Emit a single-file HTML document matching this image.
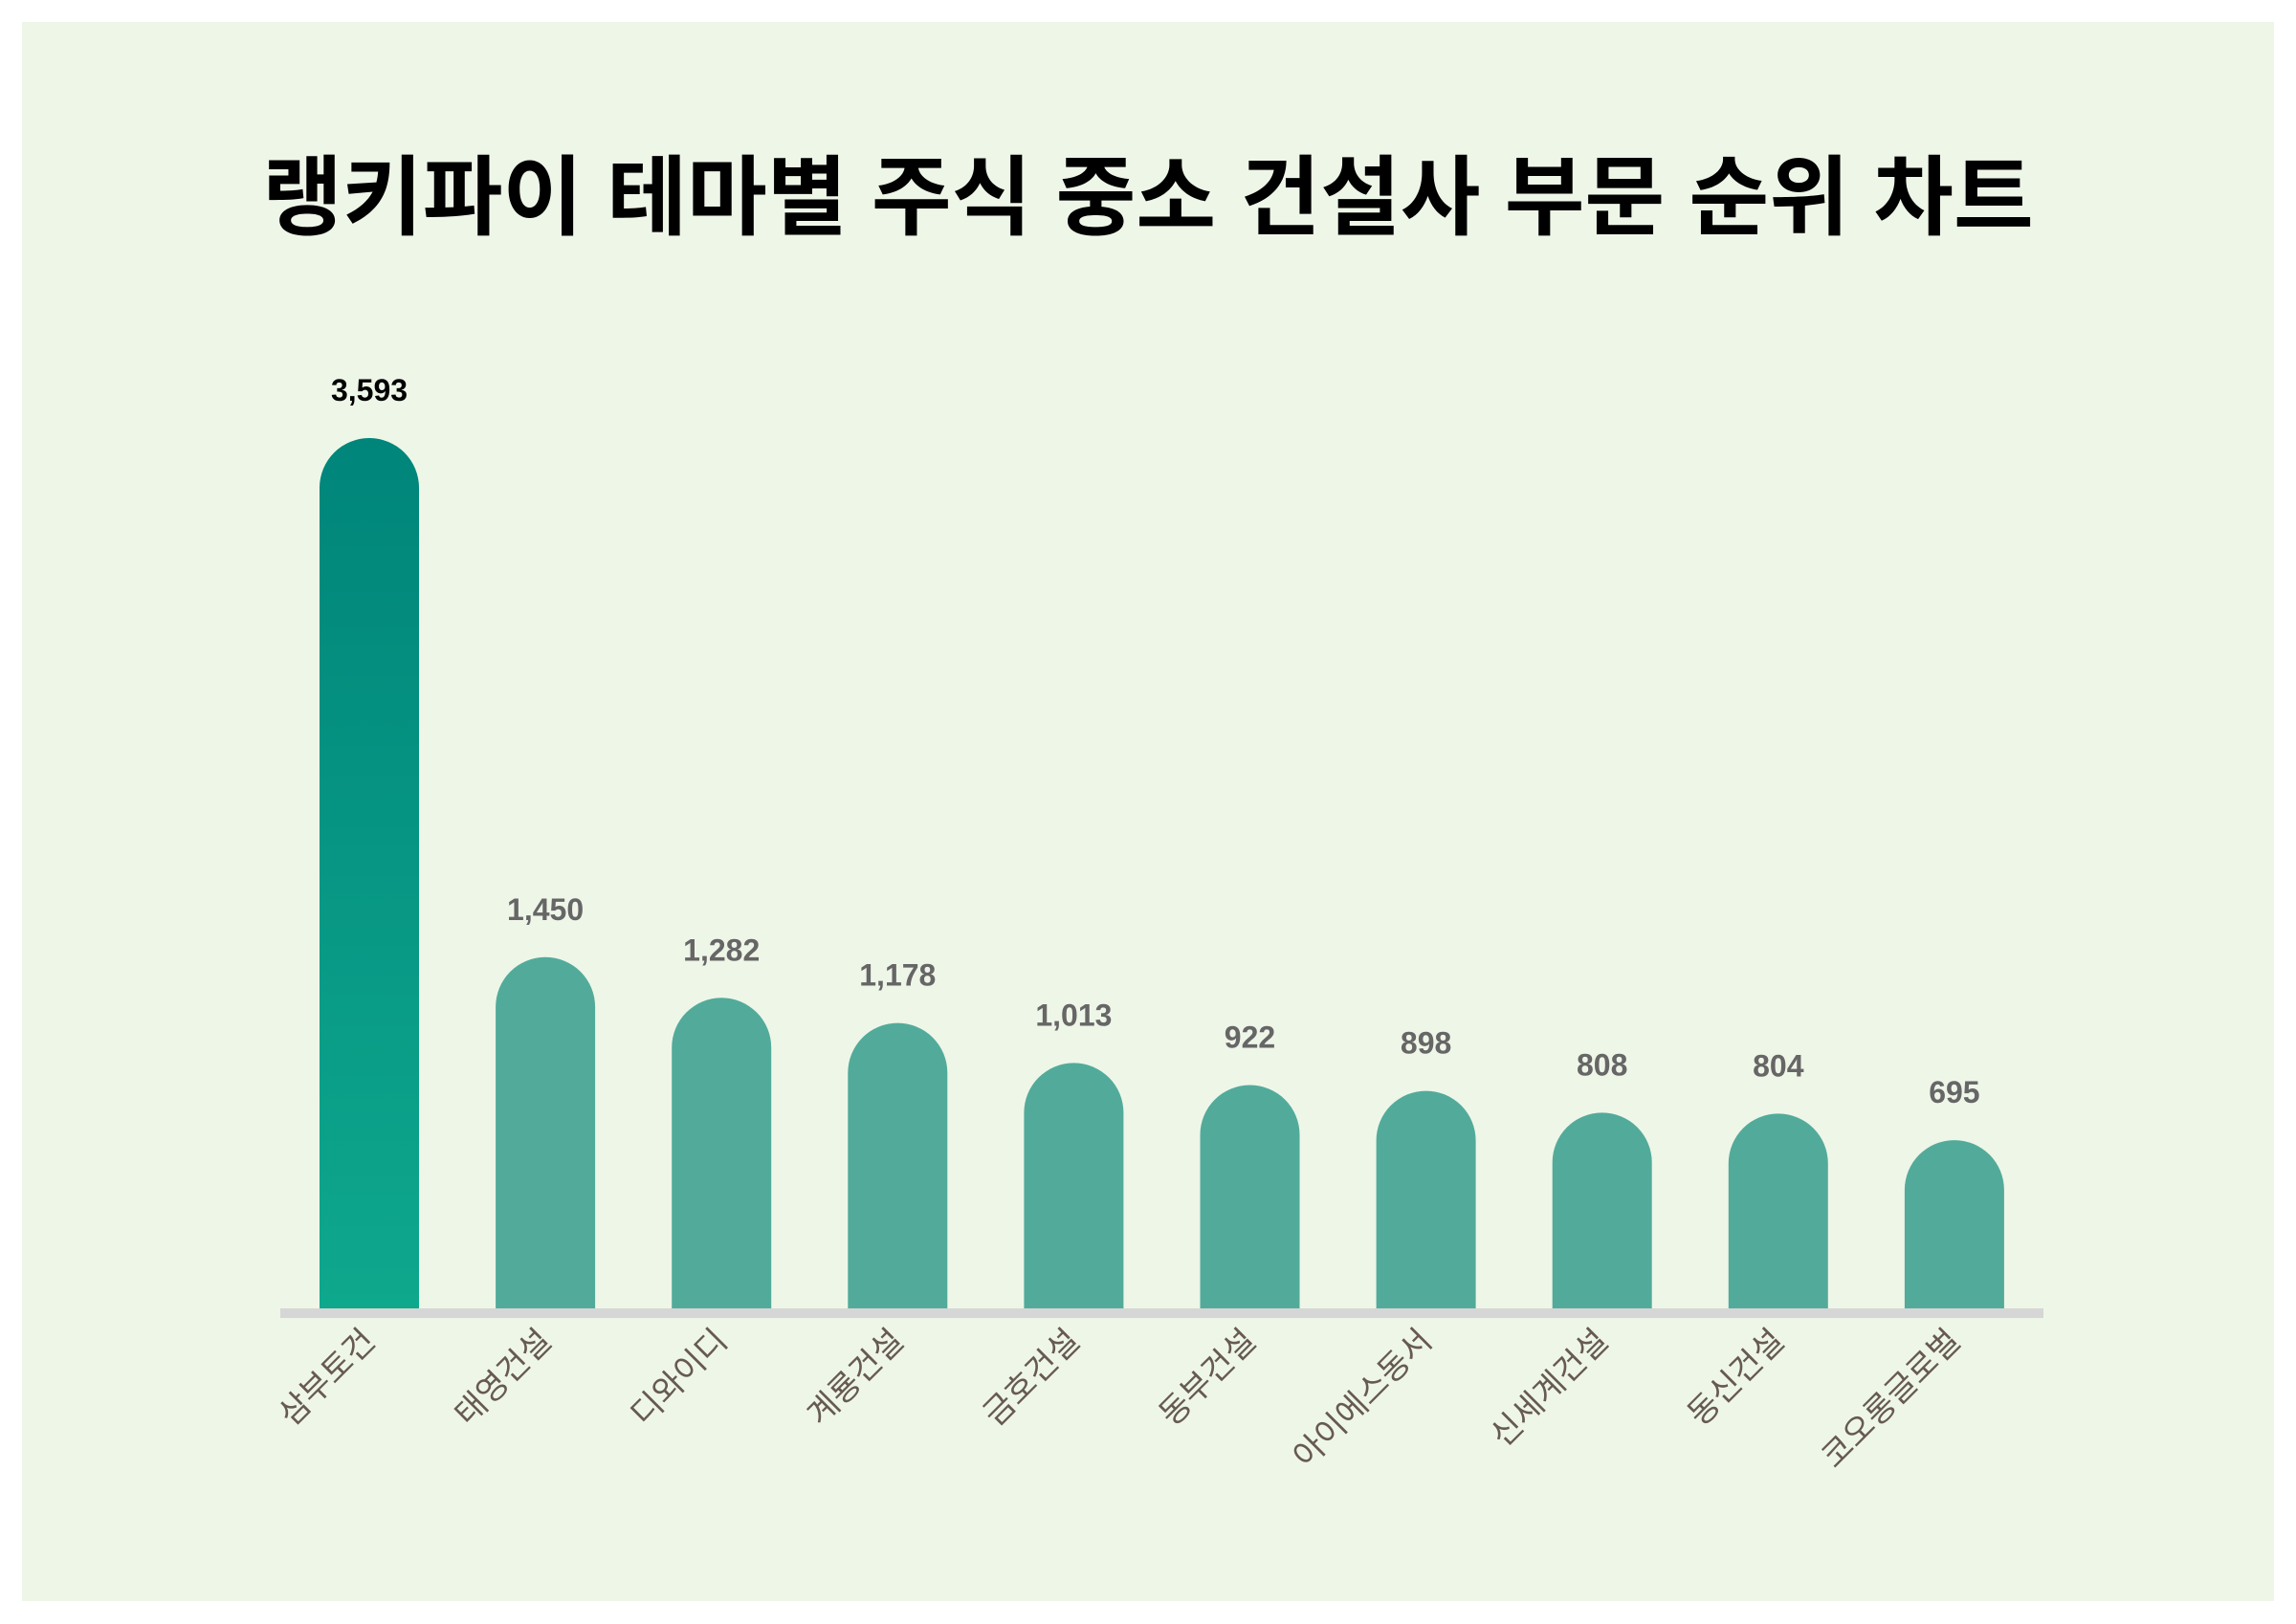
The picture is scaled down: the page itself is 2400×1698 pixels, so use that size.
<!DOCTYPE html>
<html><head><meta charset="utf-8"><style>
html,body{margin:0;padding:0;background:#fff;}
svg{display:block;font-family:"Liberation Sans","Noto Sans CJK KR",sans-serif;}
</style></head><body>
<svg id="chart" width="2400" height="1698" viewBox="0 0 2400 1698">
<defs><linearGradient id="g1" x1="0" y1="0" x2="0" y2="1"><stop offset="0" stop-color="#00857a"/><stop offset="1" stop-color="#0ea88d"/></linearGradient></defs>
<rect x="23" y="23" width="2354" height="1651" fill="#eef6e8"/>
<text x="1200" y="238" text-anchor="middle" font-size="91" font-weight="bold" fill="#000">랭키파이 테마별 주식 중소 건설사 부문 순위 차트</text>
<g id="bars"></g>
<rect x="293" y="1368" width="1843" height="10" fill="#d6d6d6"/>
</svg>
<script>
const categories=["삼부토건","태영건설","디와이디","계룡건설","금호건설","동부건설","아이에스동서","신세계건설","동신건설","코오롱글로벌"];
const values=[3593,1450,1282,1178,1013,922,898,808,804,695];
const valueLabels=["3,593","1,450","1,282","1,178","1,013","922","898","808","804","695"];
const NS="http://www.w3.org/2000/svg";
const g=document.getElementById('bars');
const base=1368, pxPerUnit=910/3593, bw=104;
function xPos(i){return 386+i*184.1;}
function yPos(v){return base-v*pxPerUnit;}
categories.forEach((c,i)=>{
  const cx=xPos(i), top=yPos(values[i]), r=bw/2;
  const p=document.createElementNS(NS,'path');
  p.setAttribute('d',`M${cx-r},${base} L${cx-r},${top+r} A${r},${r} 0 0 1 ${cx+r},${top+r} L${cx+r},${base} Z`);
  p.setAttribute('fill',i===0?'url(#g1)':'#52ab9a');
  
  
  g.appendChild(p);
  const t=document.createElementNS(NS,'text');
  t.setAttribute('x',cx);t.setAttribute('y',top-39);
  t.setAttribute('text-anchor','middle');t.setAttribute('font-size','32');t.setAttribute('font-weight','bold');
  t.setAttribute('fill',i===0?'#000':'#666');
  t.textContent=valueLabels[i];
  
  
  g.appendChild(t);
  const l=document.createElementNS(NS,'text');
  const lx=cx+8, ly=1404;
  l.setAttribute('x',lx);l.setAttribute('y',ly);
  l.setAttribute('text-anchor','end');l.setAttribute('font-size','34');l.setAttribute('fill','#665a52');
  l.setAttribute('transform',`rotate(-45 ${lx} ${ly})`);
  l.textContent=c;
  
  
  g.appendChild(l);
});
</script>
</body></html>
